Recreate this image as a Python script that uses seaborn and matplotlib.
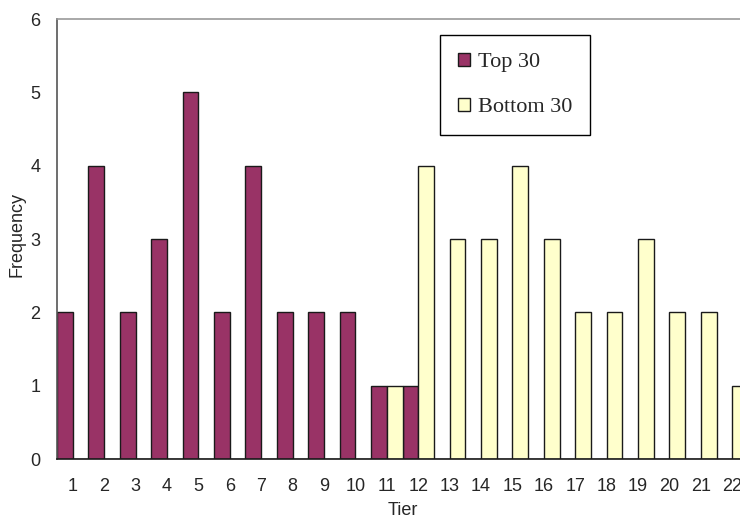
import pandas as pd
import matplotlib.pyplot as plt
import seaborn as sns
from matplotlib.patches import Patch

# Dados (frequência por tier)
tiers = list(range(1, 23))
top_30 = [2, 4, 2, 3, 5, 2, 4, 2, 2, 2, 1, 1, 0, 0, 0, 0, 0, 0, 0, 0, 0, 0]
bottom_30 = [0, 0, 0, 0, 0, 0, 0, 0, 0, 0, 1, 4, 3, 3, 4, 3, 2, 2, 3, 2, 2, 1]
groups = ["Top 30", "Bottom 30"]
colors = ["#993366", "#FFFFCC"]
y_ticks = [0, 1, 2, 3, 4, 5, 6]

sns.set_style("white")
plt.rcParams["font.family"] = ["Liberation Sans", "DejaVu Sans"]

df = pd.DataFrame({
    "Tier": tiers * 2,
    "Frequency": top_30 + bottom_30,
    "Group": [groups[0]] * len(tiers) + [groups[1]] * len(tiers),
})

fig = plt.figure(figsize=(7.4, 5.17), dpi=100)
# eixo estende-se além da borda direita (como no original recortado)
ax = fig.add_axes([57 / 740, 58 / 517, 691 / 740, 440 / 517])

sns.barplot(data=df, x="Tier", y="Frequency", hue="Group", hue_order=groups,
            palette=colors, width=1.0, edgecolor="#1a1a1a", linewidth=1.0,
            saturation=1, legend=False, ax=ax)

ax.set_xlim(-0.5, len(tiers) - 0.5)
ax.set_ylim(0, 6)
ax.set_yticks(y_ticks)
ax.tick_params(axis="y", direction="in", length=4, color="#666666", pad=12, labelsize=13)
ax.tick_params(axis="x", length=0, pad=14, labelsize=13)

ax.set_xlabel("Tier", fontsize=13)
ax.set_ylabel("Frequency", fontsize=13)
ax.xaxis.set_label_coords(0.5, -0.098)
ax.yaxis.set_label_coords(-0.046, 0.51)

ax.spines["right"].set_visible(False)
ax.spines["top"].set_color("#999999")
ax.spines["left"].set_color("#555555")
ax.spines["bottom"].set_color("#1a1a1a")
for side in ["top", "left", "bottom"]:
    ax.spines[side].set_linewidth(1.2)

handles = [Patch(facecolor=c, edgecolor="#1a1a1a", label=g) for g, c in zip(groups, colors)]
leg = fig.legend(handles=handles, loc="upper left", bbox_to_anchor=(440 / 740, 1 - 35 / 517),
                 frameon=True, fancybox=False, edgecolor="black", framealpha=1,
                 prop={"family": "Liberation Serif", "size": 16},
                 handlelength=0.55, handleheight=0.55, handletextpad=0.35,
                 labelspacing=1.15, borderpad=0.8, borderaxespad=0)
leg.get_frame().set_linewidth(1.0)

plt.savefig("out.png", dpi=100)
